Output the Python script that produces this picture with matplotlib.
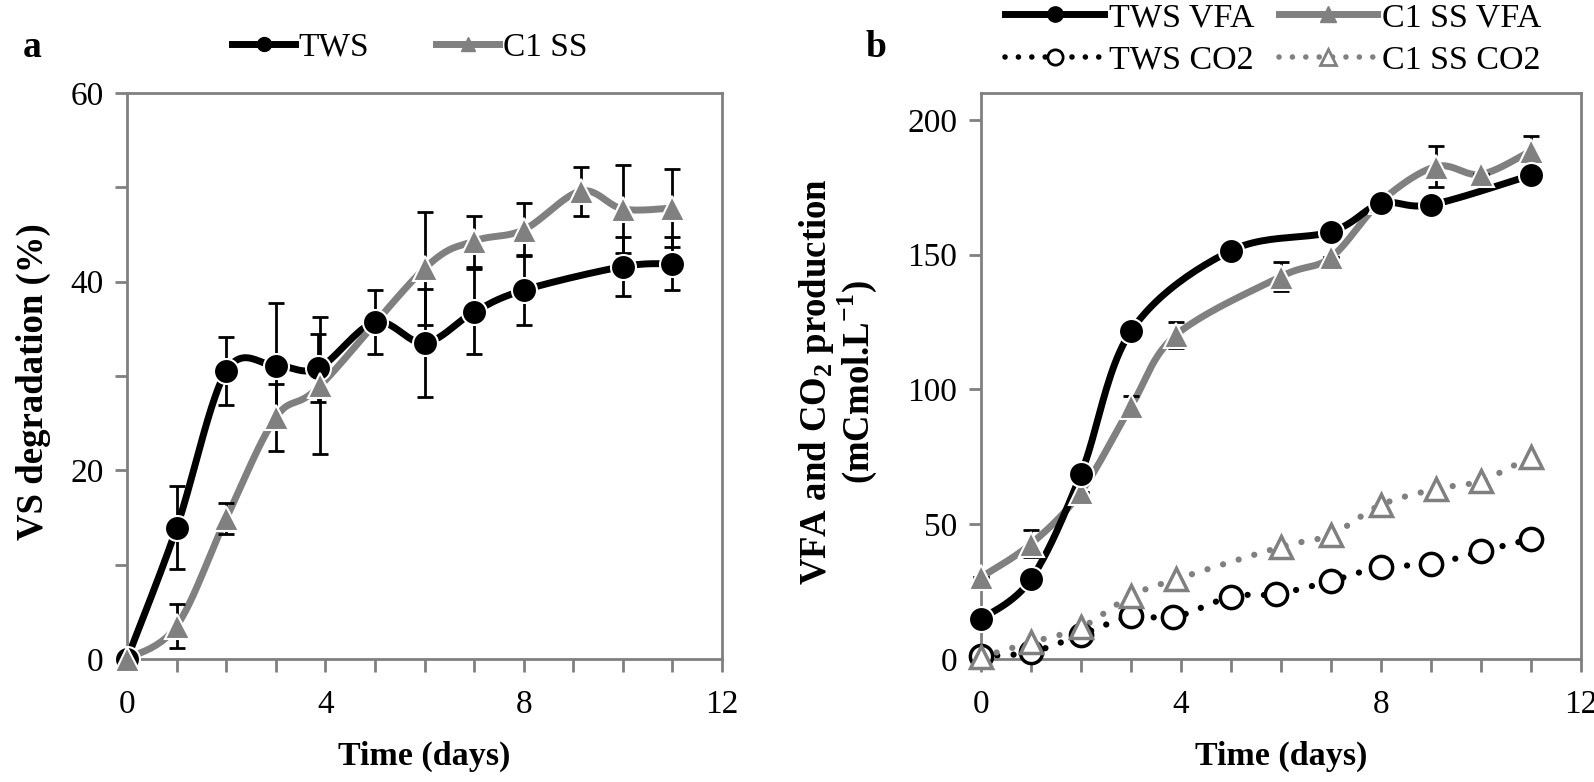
import numpy as np
import matplotlib
matplotlib.use("Agg")
import matplotlib.pyplot as plt
from matplotlib.lines import Line2D
from matplotlib.ticker import MultipleLocator

plt.rcParams['font.family'] = ['Liberation Serif', 'DejaVu Serif']
plt.rcParams['mathtext.fontset'] = 'custom'
plt.rcParams['mathtext.rm'] = 'Liberation Serif'
plt.rcParams['mathtext.bf'] = 'Liberation Serif:bold'

# Panel a: VS degradation (%)
tws_a_x = [0, 1, 2, 3, 3.85, 5, 6, 7, 8, 10, 11]
tws_a_y = [0, 13.9, 30.5, 31.1, 30.8, 35.7, 33.5, 36.8, 39.1, 41.6, 41.9]
tws_a_err = [0, 4.4, 3.6, 6.6, 3.6, 3.4, 5.7, 4.5, 3.7, 3.1, 2.8]
c1_a_x = [0, 1, 2, 3, 3.9, 6, 7, 8, 9.15, 10, 11]
c1_a_y = [0, 3.5, 14.9, 25.6, 29.0, 41.4, 44.3, 45.5, 49.6, 47.7, 47.8]
c1_a_err = [0, 2.3, 1.6, 3.5, 7.3, 6.0, 2.7, 2.8, 2.6, 4.7, 4.1]

# Panel b: VFA and CO2 production (mCmol/L)
tws_vfa_x = [0, 1, 2, 3, 5, 7, 8, 9, 11]
tws_vfa_y = [14.7, 29.6, 68.6, 121.6, 151.5, 158.5, 169, 168.5, 179.5]
c1_vfa_x = [0, 1, 2, 3, 3.9, 6, 7, 8, 9.1, 10, 11]
c1_vfa_y = [30.3, 42.7, 62, 93.7, 120.2, 141.9, 149, 169.8, 182.7, 179.8, 188.5]
c1_vfa_err = [0, 5, 0, 3.7, 5, 5.5, 0, 0, 7.5, 0, 5.5]
tws_co2_x = [0, 1, 2, 3, 3.85, 5, 5.9, 7, 8, 9, 10, 11]
tws_co2_y = [1, 2.5, 9, 15.8, 15.4, 23.1, 24.1, 28.9, 34.2, 35.1, 39.9, 44.5]
c1_co2_x = [0, 1, 2, 3, 3.9, 6, 7, 8, 9.1, 10, 11]
c1_co2_y = [0.7, 6.2, 11.7, 23.4, 29.6, 41.6, 46.1, 57.2, 63.1, 66.1, 75.1]

BLACK = 'black'
GRAY = '#808080'
TICK_FS = 24
XLABEL_FS = 24.5
YLABEL_FS = 26.5


def smooth(x, y, n=25):
    # Excel-style smoothed line (cubic Bezier through the points)
    pts = np.column_stack([x, y]).astype(float)
    p = np.vstack([pts[0], pts, pts[-1]])
    t = np.linspace(0, 1, n)[:, None]
    segs = []
    for i in range(1, len(p) - 2):
        p0, p1, p2, p3 = p[i - 1], p[i], p[i + 1], p[i + 2]
        c1 = p1 + (p2 - p0) / 6
        c2 = p2 - (p3 - p1) / 6
        segs.append((1 - t) ** 3 * p1 + 3 * (1 - t) ** 2 * t * c1
                    + 3 * (1 - t) * t ** 2 * c2 + t ** 3 * p2)
    s = np.vstack(segs)
    return s[:, 0], s[:, 1]


def style_axes(ax):
    for sp in ax.spines.values():
        sp.set_color(GRAY)
        sp.set_linewidth(2)
    ax.tick_params(which='both', direction='out', color=GRAY, width=2,
                   length=9, labelsize=TICK_FS)
    ax.tick_params(axis='x', which='both', pad=13)
    ax.tick_params(axis='y', which='both', pad=8)
    ax.xaxis.set_major_locator(MultipleLocator(4))
    ax.xaxis.set_minor_locator(MultipleLocator(1))
    ax.set_xlim(0, 12)


def series(ax, x, y, color, marker, dotted=False, open_marker=False, err=None):
    sx, sy = smooth(x, y)
    if dotted:
        ax.plot(sx, sy, color=color, lw=4.5, linestyle=(0, (0.01, 2.6)),
                dash_capstyle='round', zorder=2, clip_on=False)
    else:
        ax.plot(sx, sy, color=color, lw=5, solid_capstyle='round', zorder=2, clip_on=False)
    if err is not None:
        ax.errorbar(x, y, yerr=err, fmt='none', ecolor=BLACK, elinewidth=2,
                    capsize=6, capthick=2, zorder=3, clip_on=False)
    if open_marker:
        ax.plot(x, y, linestyle='none', marker=marker, ms=16, mfc='white',
                mec=color, mew=2.5, zorder=4, clip_on=False)
    else:
        ax.plot(x, y, linestyle='none', marker=marker, ms=18, mfc=color,
                mec='white', mew=1.5, zorder=4, clip_on=False)


fig = plt.figure(figsize=(15.94, 7.82), dpi=100)
ax1 = fig.add_axes([0.0797, 0.1573, 0.3733, 0.7238])
ax2 = fig.add_axes([0.6154, 0.1573, 0.3764, 0.7238])

# ---- panel a
style_axes(ax1)
ax1.set_ylim(0, 60)
ax1.yaxis.set_major_locator(MultipleLocator(20))
ax1.yaxis.set_minor_locator(MultipleLocator(10))
series(ax1, tws_a_x, tws_a_y, BLACK, 'o', err=tws_a_err)
series(ax1, c1_a_x, c1_a_y, GRAY, '^', err=c1_a_err)
ax1.set_xlabel('Time (days)', fontsize=XLABEL_FS, fontweight='bold', labelpad=15)
ax1.set_ylabel('VS degradation (%)', fontsize=YLABEL_FS, fontweight='bold')
ax1.yaxis.set_label_coords(-0.128, 0.49)

h_a = [Line2D([], [], color=BLACK, lw=5, marker='o', ms=10, mec=BLACK),
       Line2D([], [], color=GRAY, lw=5, marker='^', ms=10, mec=GRAY)]
fig.legend(h_a, ['TWS', 'C1 SS'], ncol=2, loc='center', bbox_to_anchor=(0.257, 0.939),
           frameon=False, fontsize=24, handlelength=1.9, handletextpad=0.1,
           columnspacing=2.0)

# ---- panel b
style_axes(ax2)
ax2.set_ylim(0, 210)
ax2.yaxis.set_major_locator(MultipleLocator(50))
ax2.yaxis.set_minor_locator(MultipleLocator(50))
series(ax2, tws_co2_x, tws_co2_y, BLACK, 'o', dotted=True, open_marker=True)
series(ax2, c1_co2_x, c1_co2_y, GRAY, '^', dotted=True, open_marker=True)
series(ax2, c1_vfa_x, c1_vfa_y, GRAY, '^', err=c1_vfa_err)
series(ax2, tws_vfa_x, tws_vfa_y, BLACK, 'o')
ax2.set_xlabel('Time (days)', fontsize=XLABEL_FS, fontweight='bold', labelpad=15)
ax2.set_ylabel('VFA and CO$_{\\mathbf{2}}$ production\n(mCmol.L$^{\\mathbf{-1}}$)',
               fontsize=YLABEL_FS, fontweight='bold', linespacing=1.0)
ax2.yaxis.set_label_coords(-0.17, 0.49)

h_b = [Line2D([], [], color=BLACK, lw=5, marker='o', ms=11, mec=BLACK),
       Line2D([], [], color=BLACK, lw=4, linestyle=(0, (0.01, 2.4)), dash_capstyle='round',
              marker='o', ms=11, mfc='white', mec=BLACK, mew=2),
       Line2D([], [], color=GRAY, lw=5, marker='^', ms=11, mec=GRAY),
       Line2D([], [], color=GRAY, lw=4, linestyle=(0, (0.01, 2.4)), dash_capstyle='round',
              marker='^', ms=11, mfc='white', mec=GRAY, mew=2)]
fig.legend(h_b, ['TWS VFA', 'TWS CO2', 'C1 SS VFA', 'C1 SS CO2'], ncol=2, loc='center',
           bbox_to_anchor=(0.799, 0.950), frameon=False, fontsize=24.5, handlelength=2.9,
           handletextpad=0.15, columnspacing=0.7, labelspacing=0.35)

fig.text(0.014, 0.939, 'a', fontsize=27, fontweight='bold', va='center')
fig.text(0.543, 0.939, 'b', fontsize=27, fontweight='bold', va='center')

fig.savefig('out.png', dpi=100)
